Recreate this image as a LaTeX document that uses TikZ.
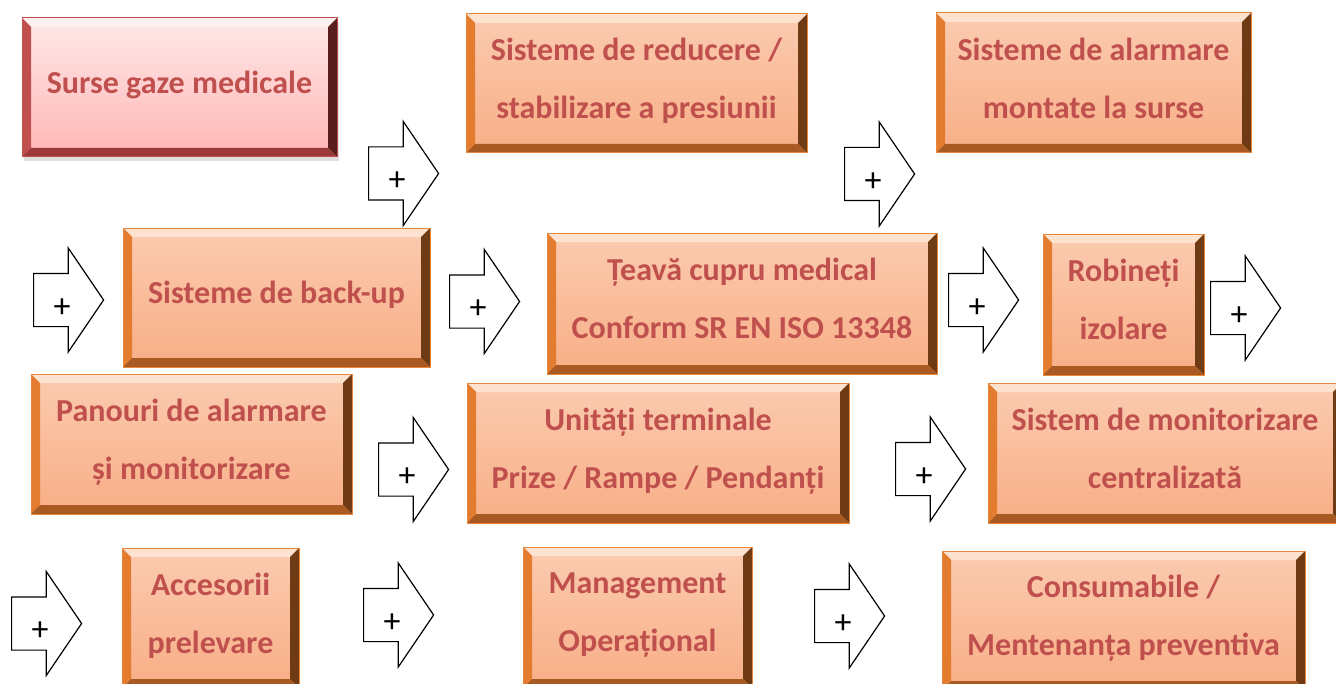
\documentclass[tikz,border=0pt]{standalone}
\usepackage{fontspec}
\setmainfont{Carlito}
\usetikzlibrary{shapes.arrows,shadows}
\definecolor{boxred}{HTML}{C0504D}
\definecolor{boxline}{HTML}{E8873C}
\definecolor{facetop}{HTML}{FBCBB0}
\definecolor{facebot}{HTML}{F8AE86}
\definecolor{bvtop}{HTML}{FDE2D0}
\definecolor{bvleft}{HTML}{E47C30}
\definecolor{bvright}{HTML}{6E3B14}
\definecolor{bvbot}{HTML}{A85A22}
\definecolor{pinktop}{HTML}{FFE8E8}
\definecolor{pinkbot}{HTML}{FFB6B6}
\definecolor{pktop}{HTML}{FFF0F0}
\definecolor{pkright}{HTML}{5A1E1E}
\definecolor{pkbot}{HTML}{9B3A38}

\begin{document}
\begin{tikzpicture}[x=0.5pt,y=-0.5pt,
  bevel/.style n args={4}{path picture={
    \coordinate (pnw) at (path picture bounding box.north west);
    \coordinate (pne) at (path picture bounding box.north east);
    \coordinate (psw) at (path picture bounding box.south west);
    \coordinate (pse) at (path picture bounding box.south east);
    \fill[#1] (pnw) -- (pne) -- ([shift={(-4.5pt,-4.5pt)}]pne) -- ([shift={(4.5pt,-4.5pt)}]pnw) -- cycle;
    \fill[#2] (pnw) -- (psw) -- ([shift={(4.5pt,4.5pt)}]psw) -- ([shift={(4.5pt,-4.5pt)}]pnw) -- cycle;
    \fill[#3] (pne) -- (pse) -- ([shift={(-4.5pt,4.5pt)}]pse) -- ([shift={(-4.5pt,-4.5pt)}]pne) -- cycle;
    \fill[#4] (psw) -- (pse) -- ([shift={(-4.5pt,4.5pt)}]pse) -- ([shift={(4.5pt,4.5pt)}]psw) -- cycle;}},
  box/.style={rectangle,inner sep=0pt,align=center,text=boxred,text depth=5pt,
    font=\bfseries\fontsize{16}{29}\selectfont,draw=boxline,line width=0.5pt,
    top color=facetop,bottom color=facebot,bevel={bvtop}{bvleft}{bvright}{bvbot}},
  pinkbox/.style={draw=boxred,top color=pinktop,bottom color=pinkbot,
    bevel={pktop}{boxred}{pkright}{pkbot},
    drop shadow={opacity=0.25,shadow xshift=1pt,shadow yshift=-2pt}},
  dims/.style 2 args={minimum width=#1*0.5pt,minimum height=#2*0.5pt},
  plusarrow/.style={single arrow,draw,line width=0.6pt,fill=white,anchor=tail,
    minimum height=35pt,inner xsep=0pt,inner ysep=13pt,
    single arrow head extend=12.75pt,single arrow tip angle=111.6,single arrow head indent=0pt},
  plus/.style={font=\fontsize{17}{18}\selectfont}]
\useasboundingbox (0,0) rectangle (1336,684);

\node[box,pinkbox,dims={315}{139}] (surse) at (179.5,87.5) {Surse gaze medicale};
\node[box,dims={341}{139}] (reducere) at (636.5,83.5) {Sisteme de reducere /\\stabilizare a presiunii};
\node[box,dims={315}{140}] (alarmare) at (1093.5,83) {Sisteme de alarmare\\montate la surse};
\node[box,dims={307}{139}] (backup) at (276.5,297.5) {Sisteme de back-up};
\node[box,dims={390}{141}] (teava) at (742,303.5) {Țeavă cupru medical\\Conform SR EN ISO 13348};
\node[box,dims={161}{141}] (robineti) at (1123.5,304.5) {Robineți\\izolare};
\node[box,dims={321}{140}] (panouri) at (191.5,444) {Panouri de alarmare\\și monitorizare};
\node[box,dims={382}{140}] (unitati) at (658,453) {Unități terminale\\Prize / Rampe / Pendanți};
\node[box,dims={354}{140}] (monitor) at (1165,453) {Sistem de monitorizare\\centralizată};
\node[box,dims={177}{140}] (accesorii) at (210.5,618) {Accesorii\\prelevare};
\node[box,dims={229}{141}] (management) at (637.5,617.5) {Management\\Operațional};
\node[box,dims={363}{139}] (consumabile) at (1123.5,620.5) {Consumabile /\\Mentenanța preventiva};

\foreach \n/\x/\y in {a1/368/173.5, a2/844/174, a3/33/300, a4/449/301.5, a5/948/300, a6/1210/308,
  a7/378/469.5, a8/895/469, a9/11/623.5, a10/363/615, a11/814/616}{
  \node[plusarrow] (\n) at (\x,\y) {};
  \node[plus] (p\n) at ([shift={(14.5pt,-4pt)}]\n.tail) {+};
}
\end{tikzpicture}
\end{document}
